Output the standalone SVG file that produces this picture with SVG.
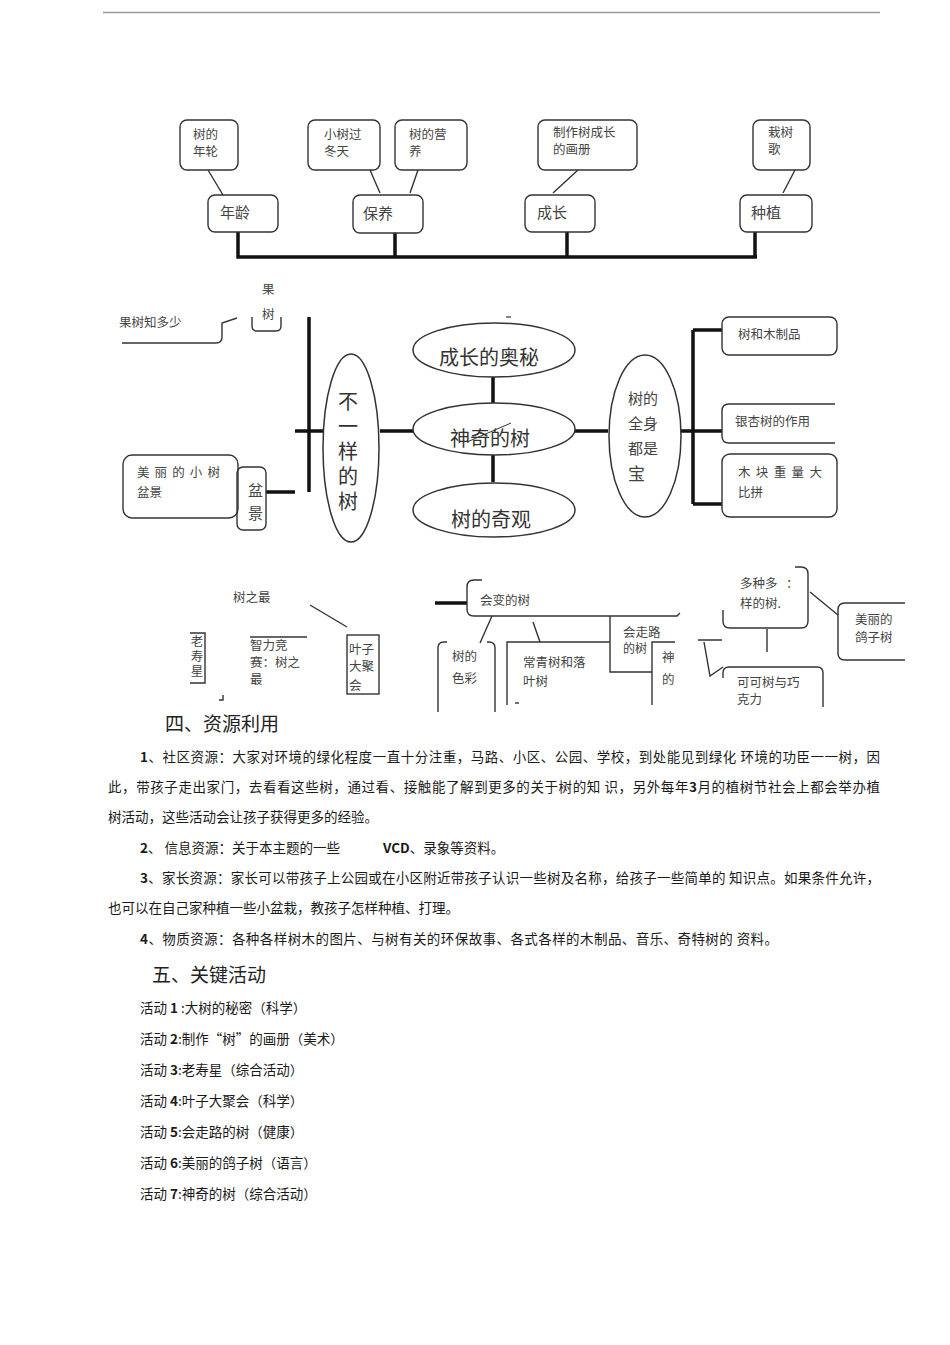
<svg xmlns="http://www.w3.org/2000/svg" width="950" height="1345" viewBox="0 0 950 1345">
<defs>
<style>
.bx{fill:none;stroke:#333;stroke-width:1.4}
.el{fill:#fff;stroke:#333;stroke-width:1.5}
.tk{fill:none;stroke:#111;stroke-width:3.5}
.th{fill:none;stroke:#333;stroke-width:1.4}
.t{font-family:"Noto Sans CJK SC","Liberation Serif",serif;fill:#444;font-size:12.5px}
.t15{font-family:"Noto Sans CJK SC","Liberation Serif",serif;fill:#444;font-size:15px}
.t20{font-family:"Noto Sans CJK SC","Liberation Serif",serif;fill:#333;font-size:20px}
.b{font-family:"Noto Sans CJK SC","Liberation Serif",serif;fill:#1a1a1a;font-size:13.5px}
.h{font-family:"Noto Sans CJK SC","Liberation Serif",serif;fill:#222;font-size:19px}
</style>
<clipPath id="clipMid"><rect x="430" y="560" width="245" height="145"/></clipPath>
</defs>
<rect width="950" height="1345" fill="#fff"/>
<line x1="103" y1="12.5" x2="880" y2="12.5" stroke="#999" stroke-width="1.5"/>

<!-- connectors -->
<g id="connectors">
<path class="tk" d="M238,232 V257 H757 M395,233 V257 M567,232 V257 M755,232 V257"/>
<path class="th" d="M208,170 L223,195 M370,170 L380,193 M418,170 L410,193 M578,170 L553,193 M795,170 L783,193"/>
<path class="tk" d="M309,317 V492" stroke-width="4"/>
<path class="tk" d="M295,431 H323 M380,431 H413 M266,492 H295"/>
<path class="tk" d="M493,377 V403 M493,455 V482" stroke-width="3"/>
<path class="tk" d="M575,431 H608 M681,431 H693"/>
<path class="tk" d="M693,330 V504 M693,330 H722 M693,431 H722 M693,504 H722" stroke-width="3.5"/>
<path class="th" d="M310,605 L347,627" stroke-width="2.5"/>
<path class="tk" d="M435,603 H467"/>
<path class="th" d="M492,616 L480,643 M533,622 L540,642"/>
<path class="th" d="M810,592 L838,615 M767,629 V652"/>
<path class="th" d="M698,640 H722 M704,642 L710,676 L723,667"/>
</g>

<!-- top nodes -->
<g id="n-nianlun"><rect class="bx" x="180" y="120" width="58" height="50" rx="7"/><text class="t" x="193" y="139">树的<tspan x="193" dy="17">年轮</tspan></text></g>
<g id="n-nianling"><rect class="bx" x="208" y="195" width="70" height="37" rx="7"/><text class="t15" x="220" y="218">年龄</text></g>
<g id="n-guodong"><rect class="bx" x="308" y="120" width="72" height="50" rx="7"/><text class="t" x="324" y="139">小树过<tspan x="324" dy="17">冬天</tspan></text></g>
<g id="n-yingyang"><rect class="bx" x="395" y="120" width="72" height="50" rx="7"/><text class="t" x="409" y="139">树的营<tspan x="409" dy="17">养</tspan></text></g>
<g id="n-baoyang"><rect class="bx" x="353" y="195" width="70" height="38" rx="7"/><text class="t15" x="363" y="219">保养</text></g>
<g id="n-huace"><rect class="bx" x="538" y="120" width="99" height="50" rx="7"/><text class="t" font-size="13" x="553" y="137">制作树成长<tspan x="553" dy="17">的画册</tspan></text></g>
<g id="n-chengzhang"><rect class="bx" x="525" y="195" width="70" height="37" rx="7"/><text class="t15" x="537" y="218">成长</text></g>
<g id="n-zaishuge"><rect class="bx" x="753" y="120" width="57" height="50" rx="7"/><text class="t" x="768" y="137">栽树<tspan x="768" dy="17">歌</tspan></text></g>
<g id="n-zhongzhi"><rect class="bx" x="740" y="195" width="72" height="37" rx="7"/><text class="t15" x="751" y="218">种植</text></g>

<!-- middle left -->
<g id="n-guoshu"><text class="t" font-size="13" x="262" y="294">果<tspan x="262" dy="25">树</tspan></text><path class="bx" d="M252,317 V326 Q252,331 257,331 H276 Q281,331 281,326 V317"/></g>
<g id="n-guoshuzhi"><text class="t" font-size="13" x="119" y="327">果树知多少</text><path class="bx" d="M122,343 H216 Q222,343 222,337 V323 L237,318"/></g>
<g id="n-buyiyang"><ellipse class="el" cx="351" cy="448" rx="28" ry="94"/>
<text class="t20" font-size="18" x="348" y="391" writing-mode="tb" letter-spacing="5">不一样的树</text></g>
<g id="n-penjing-xiao"><rect class="bx" x="123" y="455" width="115" height="63" rx="9"/><text class="t" font-size="13" x="137" y="477"><tspan textLength="83" lengthAdjust="spacing">美丽的小树</tspan><tspan x="137" dy="20">盆景</tspan></text></g>
<g id="n-penjing"><rect class="bx" x="237" y="467" width="29" height="63" rx="6" fill="#fff"/><text class="t15" x="248" y="496">盆<tspan x="248" dy="23">景</tspan></text></g>

<!-- center -->
<path d="M506,317 H511" stroke="#333" stroke-width="1.2"/>
<g id="n-aomi"><ellipse class="el" cx="494" cy="350" rx="81" ry="27"/><text class="t20" x="489" y="365" text-anchor="middle">成长的奥秘</text></g>
<g id="n-shenqi"><ellipse class="el" cx="494" cy="429" rx="81" ry="26"/><text class="t20" x="490" y="446" text-anchor="middle">神奇的树</text><path d="M467,442 L511,423" stroke="#333" stroke-width="1"/></g>
<g id="n-qiguan"><ellipse class="el" cx="494" cy="510" rx="81" ry="27"/><text class="t20" x="491" y="527" text-anchor="middle">树的奇观</text></g>
<g id="n-quanshen"><ellipse class="el" cx="645" cy="436" rx="36" ry="81"/>
<text class="t15" font-size="14.5" x="628" y="404">树的<tspan x="628" dy="25">全身</tspan><tspan x="628" dy="25">都是</tspan><tspan x="628" dy="26" font-size="17">宝</tspan></text></g>

<!-- right -->
<g id="n-muzhipin"><rect class="bx" x="722" y="317" width="115" height="38" rx="7"/><text class="t" font-size="13" x="738" y="339">树和木制品</text></g>
<g id="n-yinxing"><path class="bx" d="M835,404 H729 Q722,404 722,411 V436 Q722,443 729,443 H835"/><text class="t" font-size="13" x="735" y="426">银杏树的作用</text></g>
<g id="n-mukuai"><rect class="bx" x="722" y="454" width="115" height="63" rx="8"/><text class="t" font-size="13" x="738" y="477"><tspan textLength="84" lengthAdjust="spacing">木块重量大</tspan><tspan x="738" dy="20">比拼</tspan></text></g>

<!-- bottom left -->
<g id="n-shuzhizui"><text class="t" font-size="14" x="233" y="602">树之最</text></g>
<g id="n-laoshou"><path class="th" d="M190,633 H205 V683 H190"/><text class="t" font-size="13.5" x="197" y="635" writing-mode="tb" letter-spacing="2.5">老寿星</text></g>
<path class="th" d="M219,700 H223 V695"/>
<g id="n-zhili"><path class="th" d="M250,637 H307"/><text class="t" x="250" y="650">智力竞<tspan x="250" dy="17">赛：树之</tspan><tspan x="250" dy="17">最</tspan></text></g>
<g id="n-yezi"><rect class="bx" x="347" y="635" width="32" height="59"/><text class="t" font-size="13.5" x="349" y="654">叶子<tspan x="349" dy="17">大聚</tspan><tspan x="349" dy="19">会</tspan></text></g>

<!-- bottom middle cluster -->
<g id="n-huibian"><path class="bx" d="M482,580 H474 Q467,580 467,587 V609 Q467,616 474,616 H677 L680,613"/><text class="t" font-size="13" x="480" y="605">会变的树</text></g>
<g id="n-secai"><path class="bx" d="M438,712 V648 Q438,642 444,642 H447 M487,642 H489 Q495,642 495,648 V712"/><text class="t" x="452" y="661">树的<tspan x="452" dy="22">色彩</tspan></text></g>
<g clip-path="url(#clipMid)">
<g id="n-changqing"><path class="bx" d="M507,705 V642 H610"/><text class="t" font-size="13" x="523" y="667">常青树和落<tspan x="523" dy="19">叶树</tspan></text><path class="th" d="M515,703 H519"/></g>
<g id="n-zoulu"><path class="bx" d="M610,616 V672 H652"/><text class="t" font-size="13" x="623" y="637">会走路<tspan x="623" dy="16" font-size="12">的树</tspan></text></g>
<g id="n-shen"><path class="bx" d="M652,705 V642 H675"/><text class="t" font-size="13" x="662" y="662">神<tspan x="662" dy="22">的</tspan></text></g>
</g>

<!-- bottom right -->
<g id="n-duozhong"><path class="bx" d="M723,610 V621 Q723,628 730,628 H801 Q808,628 808,621 V574 Q808,567 801,567 H795"/><text class="t" font-size="13" x="740" y="588">多种多<tspan x="786">：</tspan><tspan x="740" dy="20">样的树.</tspan></text></g>
<g id="n-gezi"><path class="bx" d="M905,603 H845 Q838,603 838,610 V653 Q838,660 845,660 H905"/><text class="t" x="855" y="624">美丽的<tspan x="855" dy="18">鸽子树</tspan></text></g>
<g id="n-keke"><path class="bx" d="M723,678 V673 Q723,667 729,667 H817 Q823,667 823,673 V707"/><text class="t" x="737" y="687">可可树与巧<tspan x="737" dy="17">克力</tspan></text></g>

<!-- text section -->
<g id="text-section">
<text class="h" x="165" y="731">四、资源利用</text>
<text class="b" x="140" y="762" textLength="740" lengthAdjust="spacing"><tspan font-weight="bold">1</tspan>、社区资源：大家对环境的绿化程度一直十分注重，马路、小区、公园、学校，到处能见到绿化 环境的功臣一一树，因</text>
<text class="b" x="108" y="792" textLength="772" lengthAdjust="spacing">此，带孩子走出家门，去看看这些树，通过看、接触能了解到更多的关于树的知 识，另外每年<tspan font-weight="bold">3</tspan>月的植树节社会上都会举办植</text>
<text class="b" x="108" y="822">树活动，这些活动会让孩子获得更多的经验。</text>
<text class="b" x="140" y="853"><tspan font-weight="bold">2</tspan>、 信息资源：关于本主题的一些</text>
<text class="b" x="383" y="853"><tspan font-weight="bold">VCD</tspan>、录象等资料。</text>
<text class="b" x="140" y="883" textLength="740" lengthAdjust="spacing"><tspan font-weight="bold">3</tspan>、家长资源：家长可以带孩子上公园或在小区附近带孩子认识一些树及名称，给孩子一些简单的 知识点。如果条件允许，</text>
<text class="b" x="108" y="913">也可以在自己家种植一些小盆栽，教孩子怎样种植、打理。</text>
<text class="b" x="140" y="944" textLength="638" lengthAdjust="spacing"><tspan font-weight="bold">4</tspan>、物质资源：各种各样树木的图片、与树有关的环保故事、各式各样的木制品、音乐、奇特树的 资料。</text>
<text class="h" x="152" y="982">五、关键活动</text>
<text class="b" x="140" y="1013">活动 <tspan font-weight="bold">1</tspan> :大树的秘密（科学）</text>
<text class="b" x="140" y="1044">活动 <tspan font-weight="bold">2</tspan>:制作“树”的画册（美术）</text>
<text class="b" x="140" y="1075">活动 <tspan font-weight="bold">3</tspan>:老寿星（综合活动）</text>
<text class="b" x="140" y="1106">活动 <tspan font-weight="bold">4</tspan>:叶子大聚会（科学）</text>
<text class="b" x="140" y="1137">活动 <tspan font-weight="bold">5</tspan>:会走路的树（健康）</text>
<text class="b" x="140" y="1168">活动 <tspan font-weight="bold">6</tspan>:美丽的鸽子树（语言）</text>
<text class="b" x="140" y="1199">活动 <tspan font-weight="bold">7</tspan>:神奇的树（综合活动）</text>
</g>
</svg>
